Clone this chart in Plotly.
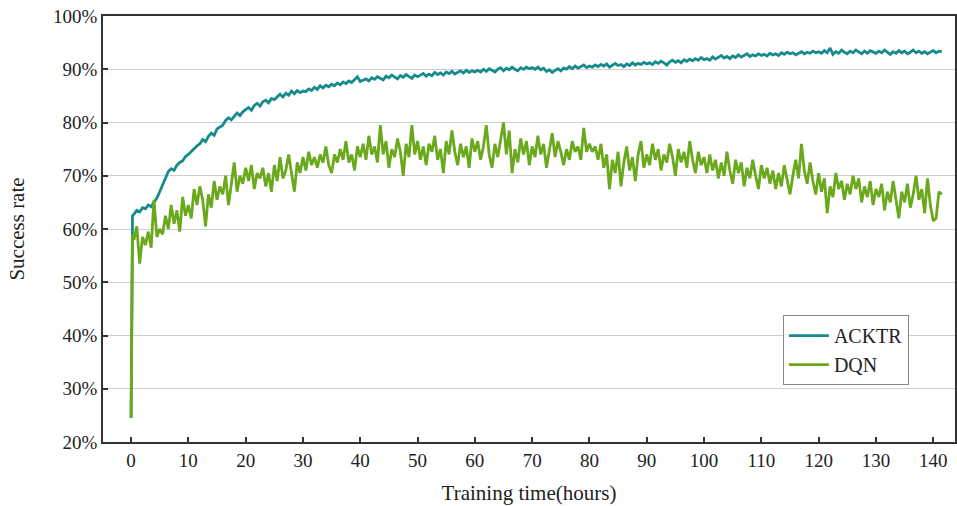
import plotly.graph_objects as go

# Sampling grid (hours): start point, near-start point, then every 0.5 h
hours = [0, 0.25] + [0.5 * k for k in range(1, 284)]

acktr = [24.5, 62.5,
    62.8, 63.5, 63.2, 64.0, 63.8, 64.5, 64.2, 65.0, 65.8, 67.0, 68.2, 69.5, 70.8, 71.3, 71.0, 72.0, 72.5, 72.8, 73.6, 74.0,
    74.6, 75.0, 75.6, 76.0, 76.8, 76.4, 77.4, 78.0, 77.6, 78.8, 79.2, 79.5, 80.4, 80.9, 80.5, 81.2, 81.8, 81.3, 82.0, 82.4,
    82.8, 82.3, 83.2, 83.6, 83.1, 83.9, 84.2, 83.7, 84.5, 84.3, 84.9, 85.3, 84.8, 85.5, 85.1, 85.9, 85.4, 86.0, 85.6, 85.9,
    85.8, 86.3, 86.0, 86.6, 86.2, 86.9, 86.5, 87.0, 86.7, 87.2, 86.9, 87.4, 87.1, 87.6, 87.3, 87.8, 87.5, 88.0, 88.6, 87.7,
    88.0, 88.2, 87.8, 88.4, 88.1, 88.6, 88.3, 88.0, 88.7, 88.4, 88.9, 88.5, 88.2, 88.8, 88.5, 89.0, 88.6, 88.3, 88.9, 88.6,
    88.9, 89.2, 88.7, 89.1, 88.8, 89.4, 89.0, 89.3, 88.9, 89.5, 89.2, 89.6, 89.1, 89.4, 89.7, 89.3, 89.8, 89.4, 89.7, 89.5,
    89.8, 89.5, 90.0, 89.6, 90.1, 89.8, 89.5, 90.0, 90.3, 89.7, 90.2, 89.9, 90.4, 90.0, 89.7, 90.3, 90.0, 90.4, 90.1, 90.3,
    90.0, 90.4, 89.9, 90.2, 89.6, 89.9, 89.4, 89.8, 90.1, 89.7, 90.2, 90.0, 90.5, 90.1, 90.6, 90.2, 90.5, 90.8, 90.3, 90.6,
    90.4, 90.8, 90.5, 90.9, 90.6, 91.0, 90.4, 90.8, 91.1, 90.7, 90.9, 90.5, 91.0, 90.7, 91.2, 90.8, 91.1, 90.9, 91.3, 91.0,
    91.2, 90.9, 91.4, 91.1, 91.5, 91.2, 90.8, 91.4, 91.7, 91.3, 91.6, 91.2, 91.8, 91.5, 91.9, 91.6, 92.0, 91.7, 92.2, 91.8,
    92.0, 91.7, 92.3, 91.9, 92.2, 92.6, 92.1, 92.4, 92.0, 92.5, 92.2, 92.7, 92.3, 92.6, 92.9, 92.4, 92.7, 92.5, 92.9, 92.6,
    92.8, 92.5, 93.0, 92.7, 92.9, 92.6, 93.1, 92.8, 93.2, 92.9, 93.1, 92.7, 93.0, 93.3, 92.9, 93.2, 93.0, 93.4, 93.1, 93.3,
    93.0, 93.5, 93.1, 94.0, 92.8, 93.3, 93.0, 93.6, 93.2, 92.9, 93.4, 93.1, 93.6, 93.2, 92.9, 93.4, 93.0, 93.5, 93.2, 93.0,
    93.4, 93.1, 93.6, 93.2, 92.8, 93.3, 93.0, 93.5, 93.1, 93.4, 92.9, 93.2, 93.6, 93.1, 93.4, 93.0, 93.3, 92.9, 93.2, 93.5,
    93.1, 93.4, 93.3]

dqn = [24.5, 59.0,
    58.0, 60.5, 53.5, 58.5, 57.0, 59.5, 56.5, 65.5, 58.5, 60.0, 59.0, 62.5, 60.0, 64.5, 61.0, 63.5, 59.5, 66.0, 62.5, 64.5,
    62.0, 67.5, 64.5, 68.0, 65.5, 60.5, 66.5, 64.0, 69.0, 65.5, 68.0, 66.5, 70.0, 64.5, 68.5, 72.5, 67.0, 70.0, 68.5, 71.5,
    69.0, 72.0, 67.5, 70.5, 69.5, 71.5, 68.0, 70.5, 67.0, 72.0, 69.0, 73.5, 69.5, 71.0, 74.0, 70.5, 67.0, 72.5, 70.5, 73.5,
    71.0, 74.5, 72.0, 73.5, 71.5, 74.0, 72.5, 75.5, 72.0, 70.5, 74.0, 72.5, 75.0, 73.0, 76.5, 72.5, 74.0, 71.0, 75.5, 73.5,
    76.0, 73.0, 77.5, 74.0, 75.5, 72.5, 79.5, 74.0, 76.5, 71.5, 75.0, 73.5, 77.0, 74.5, 70.0, 76.0, 73.5, 79.5, 74.0, 76.5,
    73.0, 75.5, 72.0, 76.0, 74.5, 77.5, 73.0, 75.0, 70.5, 76.5, 74.0, 78.5, 74.5, 72.0, 76.0, 73.5, 75.5, 71.5, 77.0, 74.5,
    76.5, 73.0, 75.5, 79.5, 74.0, 71.5, 76.0, 73.5, 77.0, 80.0, 74.0, 78.5, 70.5, 75.0, 72.5, 77.0, 74.0, 76.5, 72.0, 75.5,
    73.5, 77.5, 74.0, 76.0, 71.5, 75.0, 78.0, 73.5, 76.5, 74.5, 72.0, 75.0, 73.0, 76.5, 74.5, 75.5, 73.0, 79.0, 74.5, 76.0,
    74.5, 75.5, 73.0, 76.0, 71.5, 74.0, 67.5, 73.0, 70.5, 74.5, 68.0, 72.5, 75.5, 71.0, 73.5, 69.0, 74.0, 76.5, 71.5, 74.0,
    72.0, 76.0, 73.0, 75.0, 71.0, 74.0, 72.5, 76.0, 73.5, 70.0, 75.0, 72.5, 74.5, 71.5, 76.5, 73.0, 70.5, 74.5, 72.0, 73.5,
    70.5, 74.0, 71.0, 73.0, 69.5, 72.5, 70.0, 74.5, 71.0, 68.5, 73.0, 70.5, 72.5, 68.0, 71.5, 69.5, 73.0, 70.0, 67.5, 72.0,
    69.5, 71.5, 68.5, 71.0, 67.5, 70.5, 68.0, 72.0, 69.0, 66.5, 70.0, 73.0, 69.5, 76.0, 71.0, 68.5, 72.5, 69.0, 66.5, 70.5,
    67.0, 69.5, 63.0, 68.0, 66.0, 70.5, 67.5, 69.0, 65.5, 68.5, 66.5, 70.0, 67.5, 69.5, 65.0, 68.0, 66.0, 69.0, 64.5, 67.5,
    66.0, 68.5, 63.5, 67.0, 65.0, 69.0, 65.5, 62.0, 67.0, 65.0, 68.5, 64.0, 66.5, 70.0, 65.5, 67.5, 63.0, 69.5, 64.5, 61.5,
    62.0, 67.0, 66.5]

series_names = ["ACKTR", "DQN"]
series_colors = ["#168b8c", "#6aa81c"]

x_ticks = list(range(0, 141, 10))
y_ticks = list(range(20, 101, 10))
y_tick_text = [f"{v}%" for v in y_ticks]

FONT = "Liberation Serif, Times New Roman, serif"

fig = go.Figure()
for name, vals, col in zip(series_names, [acktr, dqn], series_colors):
    fig.add_trace(go.Scatter(x=hours, y=vals, mode="lines", name=name,
                             line=dict(color=col, width=2.8)))

fig.update_layout(
    width=957, height=506,
    margin=dict(l=103, r=2, t=16, b=64),
    paper_bgcolor="white", plot_bgcolor="white",
    font=dict(family=FONT, size=19, color="#222"),
    showlegend=True,
    legend=dict(x=0.798, y=0.298, xanchor="left", yanchor="top",
                bgcolor="white", bordercolor="#888", borderwidth=1,
                font=dict(family=FONT, size=20, color="#222"),
                tracegroupgap=0, itemwidth=40),
)
fig.update_xaxes(range=[-4.9, 143.8], tickvals=x_ticks, ticks="inside", ticklen=5,
                 tickwidth=1.5, tickcolor="#333", automargin=False,
                 showline=True, linecolor="#333", linewidth=1.8, mirror=True,
                 showgrid=False, zeroline=False,
                 title=dict(text="Training time(hours)", font=dict(family=FONT, size=21), standoff=16),
                 tickfont=dict(family=FONT, size=19))
fig.update_yaxes(range=[20, 100], tickvals=y_ticks, ticktext=y_tick_text, ticks="inside", ticklen=5,
                 tickwidth=1.5, tickcolor="#333", automargin=False,
                 showline=True, linecolor="#333", linewidth=1.8, mirror=True,
                 showgrid=True, gridcolor="#cfcfcf", gridwidth=1.2, zeroline=False,
                 title=dict(text="Success rate", font=dict(family=FONT, size=21), standoff=23),
                 tickfont=dict(family=FONT, size=19))

fig.write_html("out.html", config={"displayModeBar": False},
               post_script="document.body.style.margin='0';document.body.style.overflow='hidden';")
